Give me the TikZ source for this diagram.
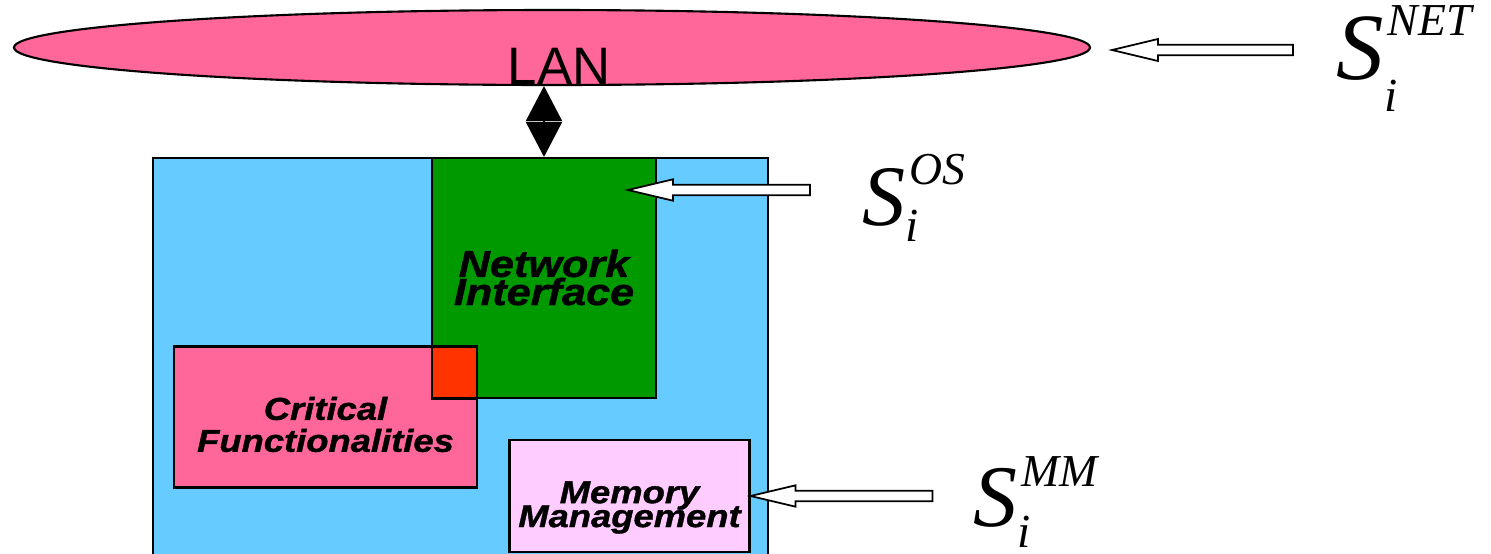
\documentclass[tikz,border=0pt]{standalone}
\usepackage{fontspec}
\setmainfont{Liberation Serif}
\newfontfamily\boxfont[FakeStretch=1.15, FakeBold=1.2]{Liberation Sans}
\newfontfamily\lanfont{Liberation Sans}
\usetikzlibrary{shapes.geometric,arrows.meta}
\definecolor{lanpink}{HTML}{FF6699}
\definecolor{hostblue}{HTML}{66CCFF}
\definecolor{nicgreen}{HTML}{009900}
\definecolor{overlapred}{HTML}{FF3300}
\definecolor{memlilac}{HTML}{FFCCFF}
\newcommand{\slab}[4]{{\fontsize{#1}{#1}\selectfont\itshape S}\makebox[0pt][l]{\raisebox{-#2}{\fontsize{13.5}{13.5}\selectfont\itshape i}}\raisebox{#3}{\fontsize{13}{13}\selectfont\itshape\kern1pt #4}}

\begin{document}
\begin{tikzpicture}[
    box/.style={draw, line width=0.6pt, inner sep=0pt},
    boxtext/.style 2 args={font={\boxfont\bfseries\itshape\fontsize{#1}{#2}\selectfont\lineskiplimit=-20pt}, align=center, inner sep=0pt},
    hollow/.style={draw, fill=white, line width=0.5pt, line join=miter}]

    \useasboundingbox (0,0) rectangle (14.91,-5.54);

    \node[box, ellipse, fill=lanpink, minimum width=10.76cm, minimum height=0.75cm] (lan) at (5.52,-0.475) {};
    \node[anchor=base, inner sep=0pt, font={\lanfont\fontsize{15}{15}\selectfont}] (lantext) at (5.59,-0.84) {LAN};

    \node[box, fill=hostblue, minimum width=6.15cm, minimum height=4.12cm] (host) at (4.605,-3.64) {};
    \node[box, fill=nicgreen, minimum width=2.24cm, minimum height=2.40cm] (netif) at (5.44,-2.78) {};
    \node[box, fill=lanpink, minimum width=3.03cm, minimum height=1.41cm] (crit) at (3.255,-4.17) {};
    \node[box, fill=overlapred, minimum width=0.45cm, minimum height=0.52cm] (overlap) at (4.545,-3.725) {};
    \node[box, fill=memlilac, minimum width=2.40cm, minimum height=1.12cm] (mem) at (6.295,-4.96) {};

    \node[boxtext={10.7}{8}] (netiftext) at (5.44,-2.775) {Network\\Interface};
    \node[boxtext={9}{9.1}] (crittext) at (3.255,-4.245) {Critical\\Functionalities};
    \node[boxtext={9}{6.8}] (memtext) at (6.295,-5.075) {Memory\\Management};

    \draw[line width=0.6pt, {Triangle[length=3.5mm, width=3.6mm]}-{Triangle[length=3.5mm, width=3.6mm]}] (netif.north |- lan.south) -- (netif.north);

    % hollow arrows towards the layers
    \coordinate (nettip) at (11.12,-0.50);
    \coordinate (ostip) at (6.28,-1.90);
    \coordinate (mmtip) at (mem.east);

    \draw[hollow] (nettip) -- ++(0.46,0.11) -- ++(0,-0.057) -- ++(1.35,0) -- ++(0,-0.106) -- ++(-1.35,0) -- ++(0,-0.057) -- cycle;
    \draw[hollow] (ostip) -- ++(0.45,0.107) -- ++(0,-0.054) -- ++(1.37,0) -- ++(0,-0.106) -- ++(-1.37,0) -- ++(0,-0.054) -- cycle;
    \draw[hollow] (mmtip) -- ++(0.45,0.107) -- ++(0,-0.054) -- ++(1.37,0) -- ++(0,-0.106) -- ++(-1.37,0) -- ++(0,-0.054) -- cycle;

    \node[anchor=base west, inner sep=0pt] (snet) at (13.36,-0.79) {\slab{27}{9.2pt}{12.3pt}{NET}};
    \node[anchor=base west, inner sep=0pt] (sos) at (8.62,-2.25) {\slab{24.5}{4.8pt}{11.4pt}{OS}};
    \node[anchor=base west, inner sep=0pt] (smm) at (9.73,-5.26) {\slab{25}{6pt}{11.1pt}{MM}};
\end{tikzpicture}
\end{document}
